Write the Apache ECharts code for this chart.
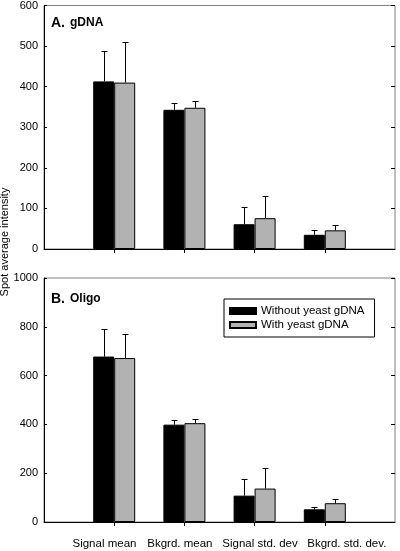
<!DOCTYPE html>
<html><head><meta charset="utf-8">
<script src="https://cdn.jsdelivr.net/npm/echarts@6/dist/echarts.min.js"></script>
<style>html,body{margin:0;padding:0;background:#fff}#c{width:400px;height:551px}</style>
</head><body><div id="c"></div>
<script>
var categories = ['', 'Signal mean', 'Bkgrd. mean', 'Signal std. dev', 'Bkgrd. std. dev.', ''];
var seriesNames = ['Without yeast gDNA', 'With yeast gDNA'];
// Panel A (gDNA)
var gdnaWithout = [null, 413, 343, 61, 35, null];
var gdnaWithoutErr = [null, 487, 359, 104, 46, null];
var gdnaWith = [null, 410, 348, 76, 46, null];
var gdnaWithErr = [null, 511, 365, 130, 59, null];
// Panel B (Oligo)
var oligoWithout = [null, 678, 399, 108, 52, null];
var oligoWithoutErr = [null, 790, 416, 177, 63, null];
var oligoWith = [null, 672, 405, 137, 77, null];
var oligoWithErr = [null, 772, 423, 222, 96, null];
var yTicksA = {min: 0, max: 600, interval: 100};
var yTicksB = {min: 0, max: 1000, interval: 200};

var FONT = 'Liberation Sans, Arial, sans-serif';
var BAR_W = 21;
// left edges of the category label texts (layout only)
var labelLeft = [null, 72.5, 147.3, 222.3, 307.3, null];

function errData(mean, top) {
  var out = [];
  for (var i = 0; i < mean.length; i++) {
    if (mean[i] != null) out.push([i, mean[i], top[i]]);
  }
  return out;
}
function errSeries(gi, mean, top, offset) {
  return {
    type: 'custom', xAxisIndex: gi, yAxisIndex: gi * 2, z: 1,
    data: errData(mean, top),
    encode: {x: 0, y: [1, 2]},
    silent: true,
    renderItem: function (params, api) {
      var base = api.coord([api.value(0), api.value(1)]);
      var tp = api.coord([api.value(0), api.value(2)]);
      var x = Math.round(base[0] + offset) + 0.5;
      var ty = Math.round(tp[1]) + 0.5;
      return {
        type: 'group',
        children: [
          {type: 'line', shape: {x1: x, y1: base[1], x2: x, y2: ty}, style: {stroke: '#000', lineWidth: 1}},
          {type: 'line', shape: {x1: x - 3, y1: ty, x2: x + 3, y2: ty}, style: {stroke: '#000', lineWidth: 1}}
        ]
      };
    }
  };
}
function xAxis(gi) {
  return {
    type: 'category', gridIndex: gi, data: categories, boundaryGap: false, min: 0, max: 4.94,
    axisLine: {lineStyle: {color: '#000', width: 1}},
    axisTick: {show: true, length: 4, lineStyle: {color: '#000'}, interval: function (i) { return i >= 1 && i <= 4; }},
    axisLabel: {show: false},
    splitLine: {show: false}
  };
}
function yAxes(gi, t) {
  return [{
    type: 'value', gridIndex: gi, min: t.min, max: t.max, interval: t.interval, position: 'left',
    axisLine: {show: true, lineStyle: {color: '#000'}},
    axisTick: {show: true, inside: true, length: 3, lineStyle: {color: '#000'}},
    axisLabel: {color: '#000', fontSize: 11, fontFamily: FONT, margin: 6, formatter: function (v) { return String(v); }},
    splitLine: {show: false}
  }, {
    type: 'value', gridIndex: gi, min: t.min, max: t.max, interval: t.interval, position: 'right',
    axisLine: {show: false},
    axisTick: {show: true, inside: true, length: 4, lineStyle: {color: '#000'}},
    axisLabel: {show: false},
    splitLine: {show: false}
  }];
}
function barSeries(gi, name, data, color) {
  return {
    type: 'bar', name: name, xAxisIndex: gi, yAxisIndex: gi * 2, data: data,
    barWidth: BAR_W, barGap: '0%', z: 2,
    itemStyle: {color: color, borderColor: '#000', borderWidth: 1},
    silent: true
  };
}

var graphics = [{
  type: 'text', x: 5, y: 242, rotation: Math.PI / 2,
  style: {text: 'Spot average intensity', fontSize: 11, fontFamily: FONT, fill: '#000', align: 'center', verticalAlign: 'middle'}
}];
for (var i = 0; i < categories.length; i++) {
  if (!categories[i]) continue;
  graphics.push({
    type: 'text', x: labelLeft[i], y: 544,
    style: {text: categories[i], fontSize: 11.5, fontFamily: FONT, fill: '#000', align: 'left', verticalAlign: 'middle'}
  });
}

var chart = echarts.init(document.getElementById('c'), null, {renderer: 'canvas'});
chart.setOption({
  animation: false,
  textStyle: {fontFamily: FONT},
  grid: [
    {left: 44, top: 5, width: 351, height: 244, show: true, borderColor: '#808080', borderWidth: 1, backgroundColor: 'transparent'},
    {left: 44, top: 278, width: 351, height: 244, show: true, borderColor: '#808080', borderWidth: 1, backgroundColor: 'transparent'}
  ],
  xAxis: [xAxis(0), xAxis(1)],
  yAxis: yAxes(0, yTicksA).concat(yAxes(1, yTicksB)),
  title: [
    {text: '{a|A.} {b|gDNA}', left: 51, top: 14, padding: 0, textStyle: {rich: {a: {fontSize: 14, fontWeight: 'bold', color: '#000', fontFamily: FONT}, b: {fontSize: 12, fontWeight: 'bold', color: '#000', fontFamily: FONT}}}},
    {text: '{a|B.} {b|Oligo}', left: 51, top: 290, padding: 0, textStyle: {rich: {a: {fontSize: 14, fontWeight: 'bold', color: '#000', fontFamily: FONT}, b: {fontSize: 12, fontWeight: 'bold', color: '#000', fontFamily: FONT}}}}
  ],
  graphic: graphics,
  legend: {
    data: seriesNames, orient: 'vertical', left: 224, top: 299,
    backgroundColor: '#fff', borderColor: '#000', borderWidth: 1, padding: [6, 10, 6, 5],
    itemWidth: 26, itemHeight: 6, itemGap: 2, icon: 'rect',
    textStyle: {fontSize: 11.5, fontFamily: FONT, color: '#000', lineHeight: 12},
    selectedMode: false
  },
  series: [
    barSeries(0, seriesNames[0], gdnaWithout, '#000'),
    barSeries(0, seriesNames[1], gdnaWith, '#b2b2b2'),
    errSeries(0, gdnaWithout, gdnaWithoutErr, -BAR_W / 2),
    errSeries(0, gdnaWith, gdnaWithErr, BAR_W / 2),
    barSeries(1, seriesNames[0], oligoWithout, '#000'),
    barSeries(1, seriesNames[1], oligoWith, '#b2b2b2'),
    errSeries(1, oligoWithout, oligoWithoutErr, -BAR_W / 2),
    errSeries(1, oligoWith, oligoWithErr, BAR_W / 2)
  ]
});
</script></body></html>
